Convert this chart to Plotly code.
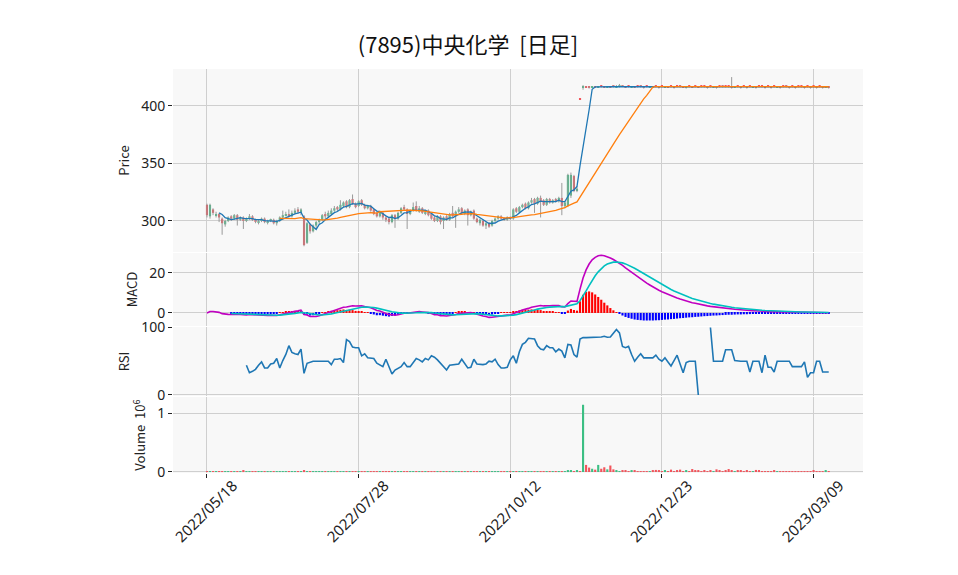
import math
import pandas as pd
import plotly.graph_objects as go
from plotly.subplots import make_subplots

TITLE = "(7895)中央化学  [日足]"
tick_pos = [0, 50, 100, 150, 200]
tick_labels = ["2022/05/18", "2022/07/28", "2022/10/12", "2022/12/23", "2023/03/09"]

open_ = [
    314, 304, 310, 305, 306, 302, 297, 300, 304, 302,
    305, 301, 303, 300, 302, 304, 301, 299, 300, 302,
    299, 300, 301, 298, 300, 303, 305, 306, 304, 307,
    310, 307, 304, 281, 297, 291, 296, 299, 301, 306,
    304, 306, 309, 312, 310, 313, 317, 312, 319, 315,
    313, 318, 314, 311, 313, 310, 307, 304, 307, 303,
    302, 299, 305, 302, 307, 312, 310, 306, 309, 313,
    308, 311, 306, 309, 306, 303, 300, 304, 300, 304,
    301, 307, 304, 308, 311, 306, 310, 305, 309, 302,
    298, 300, 296, 298, 296, 300, 302, 304, 302, 301,
    303, 302, 311, 308, 312, 315, 311, 316, 319, 315,
    320, 318, 314, 319, 316, 319, 317, 320, 313, 313,
    322, 339, 326, 406,
    416, 417, 416, 416, 417, 416, 417, 417, 416, 417,
    417, 416, 417, 418, 417, 417, 416, 417, 417, 417,
    416, 417, 416, 417, 417, 416, 417, 416, 417, 417,
    417, 417, 417, 417, 416, 417, 417, 417, 417, 417,
    417, 417, 417, 416, 417, 417, 417, 417, 417, 417,
    416, 417, 417, 417, 417, 417, 416, 417, 417, 417,
    417, 417, 417, 417, 416, 417, 417, 417, 417, 417,
    417, 417, 417, 417, 417, 417, 417, 417, 417, 417,
    416, 417,
]
high = [
    315, 315, 311, 308, 307, 303, 301, 304, 305, 306,
    306, 304, 304, 303, 306, 305, 302, 301, 303, 303,
    301, 302, 302, 301, 304, 309, 308, 310, 309, 311,
    312, 311, 305, 299, 298, 297, 300, 302, 306, 308,
    309, 311, 313, 313, 318, 317, 318, 319, 323, 316,
    318, 319, 315, 314, 314, 311, 308, 309, 308, 304,
    303, 306, 306, 308, 312, 314, 311, 310, 316, 317,
    313, 312, 309, 310, 307, 304, 305, 305, 304, 305,
    307, 313, 309, 312, 312, 310, 311, 309, 310, 303,
    302, 301, 299, 299, 301, 303, 305, 305, 303, 304,
    304, 311, 312, 313, 315, 316, 317, 320, 320, 321,
    322, 319, 320, 320, 319, 320, 321, 333, 317, 341,
    342, 340, 330, 406,
    418, 417, 417, 417, 417, 417, 417, 417, 417, 417,
    418, 418, 419, 418, 417, 417, 417, 417, 417, 418,
    417, 417, 417, 417, 417, 417, 417, 417, 417, 417,
    417, 417, 418, 417, 417, 417, 417, 417, 417, 417,
    417, 417, 417, 417, 417, 417, 418, 417, 417, 425,
    417, 417, 417, 417, 417, 417, 417, 417, 417, 417,
    417, 417, 417, 417, 417, 417, 417, 418, 417, 417,
    417, 417, 417, 417, 417, 417, 417, 417, 417, 417,
    417, 417,
]
low = [
    303, 302, 305, 303, 299, 288, 295, 299, 300, 301,
    296, 300, 293, 299, 301, 300, 298, 297, 299, 298,
    297, 299, 297, 296, 299, 302, 304, 303, 303, 306,
    306, 305, 278, 280, 289, 290, 293, 297, 300, 301,
    303, 305, 308, 308, 309, 312, 311, 311, 314, 311,
    312, 313, 310, 310, 308, 305, 303, 303, 301, 299,
    297, 298, 294, 301, 306, 309, 293, 305, 308, 308,
    307, 306, 305, 304, 301, 299, 299, 297, 293, 300,
    300, 303, 294, 307, 306, 305, 296, 304, 301, 298,
    296, 295, 293, 294, 295, 299, 301, 301, 300, 300,
    301, 301, 307, 307, 311, 310, 310, 315, 307, 314,
    303, 313, 313, 315, 315, 316, 316, 305, 311, 312,
    320, 325, 325, 406,
    414, 416, 415, 416, 416, 416, 416, 416, 416, 416,
    416, 416, 416, 417, 416, 416, 416, 416, 416, 416,
    415, 416, 416, 416, 416, 415, 416, 416, 416, 416,
    415, 416, 416, 416, 415, 416, 416, 416, 416, 416,
    416, 415, 416, 416, 415, 416, 416, 416, 416, 415,
    416, 416, 415, 416, 415, 416, 416, 415, 416, 416,
    415, 416, 415, 416, 416, 415, 416, 416, 415, 416,
    415, 416, 416, 415, 416, 415, 416, 415, 416, 415,
    416, 415,
]
close = [
    305, 314, 307, 306, 303, 298, 300, 303, 302, 305,
    301, 303, 300, 302, 304, 301, 299, 300, 302, 299,
    300, 301, 298, 300, 303, 305, 306, 304, 307, 309,
    308, 310, 279, 298, 291, 296, 299, 301, 305, 304,
    307, 309, 311, 310, 314, 316, 312, 318, 315, 312,
    317, 314, 311, 313, 309, 306, 304, 308, 303, 301,
    299, 305, 302, 307, 311, 310, 306, 309, 312, 309,
    311, 307, 308, 305, 302, 300, 304, 299, 303, 301,
    306, 304, 308, 310, 307, 309, 305, 308, 302, 299,
    301, 296, 298, 295, 300, 302, 304, 302, 301, 303,
    302, 310, 308, 312, 314, 311, 316, 318, 315, 320,
    317, 314, 319, 316, 318, 317, 320, 313, 316, 340,
    340, 326, 328, 406,
    417, 416, 416, 417, 416, 417, 417, 416, 417, 416,
    417, 417, 418, 417, 416, 417, 417, 416, 417, 417,
    416, 417, 417, 416, 417, 416, 417, 417, 416, 417,
    416, 417, 417, 416, 417, 417, 416, 417, 416, 417,
    417, 416, 417, 417, 416, 417, 417, 417, 417, 416,
    417, 417, 416, 417, 416, 417, 417, 416, 417, 417,
    416, 417, 416, 417, 417, 416, 417, 417, 416, 417,
    416, 417, 417, 416, 417, 416, 417, 416, 417, 416,
    417, 416,
]
volume = [
    12000, 9000, 6000, 5000, 7000, 11000, 6000, 5000, 4000, 5000,
    6000, 4000, 30000, 5000, 4000, 5000, 3000, 4000, 3000, 5000,
    4000, 3000, 5000, 4000, 6000, 7000, 5000, 6000, 5000, 8000,
    6000, 7000, 25000, 15000, 9000, 7000, 6000, 5000, 6000, 5000,
    6000, 5000, 7000, 5000, 8000, 9000, 7000, 8000, 10000, 6000,
    7000, 5000, 4000, 5000, 6000, 5000, 4000, 5000, 6000, 4000,
    5000, 4000, 6000, 5000, 7000, 6000, 8000, 5000, 6000, 7000,
    5000, 4000, 5000, 4000, 5000, 4000, 5000, 6000, 5000, 4000,
    5000, 7000, 6000, 8000, 5000, 4000, 6000, 5000, 4000, 5000,
    4000, 5000, 4000, 5000, 6000, 4000, 5000, 4000, 3000, 4000,
    5000, 9000, 7000, 8000, 9000, 6000, 8000, 7000, 6000, 8000,
    7000, 6000, 8000, 5000, 6000, 5000, 7000, 12000, 9000, 30000,
    22000, 15000, 25000, 3000,
    1140000, 120000, 75000, 55000, 40000, 120000, 55000, 80000, 45000, 110000,
    45000, 20000, 15000, 25000, 25000, 12000, 20000, 30000, 12000, 10000,
    15000, 10000, 12000, 25000, 35000, 20000, 12000, 25000, 15000, 40000,
    15000, 20000, 40000, 15000, 20000, 15000, 50000, 25000, 20000, 12000,
    20000, 15000, 30000, 12000, 45000, 20000, 15000, 25000, 50000, 20000,
    12000, 20000, 30000, 15000, 30000, 10000, 15000, 35000, 20000, 12000,
    10000, 12000, 10000, 20000, 12000, 10000, 10000, 12000, 10000, 8000,
    10000, 8000, 10000, 8000, 10000, 12000, 25000, 8000, 10000, 8000,
    30000, 10000,
]
N = None
rsi = [
    N, N, N, N, N, N, N, N, N, N,
    N, N, N, 44, 33, 35, 38, 44, 49, 40,
    40, 46, 47, 54, 40, 51, 60, 73, 63, 61,
    60, 68, 32, 47, 49, 50, 50, 50, 51, 50,
    50, 45, 53, 53, 54, 48, 82, 79, 71, 70,
    70, 58, 61, 55, 54, 54, 47, 45, 42, 53,
    42, 31, 37, 40, 42, 48, 42, 42, 48, 54,
    52, 49, 54, 52, 58, 56, 52, 47, 42, 37,
    44, 45, 45, 46, 53, 46, 40, 41, 53, 46,
    45, 45, 46, 50, 49, 53, 45, 40, 40, 41,
    52, 58, 47, 64, 75, 78, 84, 84, 83, 73,
    68, 67, 73, 70, 70, 64, 68, 65, 55, 75,
    74, 60, 56, 83, 85, 85, 85, 85.5, 86, 86,
    86, 87, 85.5, 86, 92, 97, 92, 72, 70, 72,
    60, 50, 56, 61, 55, 55, 55, 55, 59, 53,
    50, 55, 49, 43, 51, 59, 46, 33, 48, 50,
    50, 50, 0, N, N, N, 100, 50, 50, 50,
    50, 67, 67, 67, 51, 50, 50, 50, 50, 34,
    50, 50, 50, 33, 59, 41, 41, 34, 50, 50,
    50, 50, 50, 42, 42, 42, 42, 49, 26, 33,
    33, 50, 50, 34, 34, 34,
]

n = len(close)
x = list(range(n))
s = pd.Series(close, dtype=float)
ma5 = s.rolling(5).mean()
ma25 = s.rolling(25).mean()
ema12 = s.ewm(span=12, adjust=False).mean()
ema26 = s.ewm(span=26, adjust=False).mean()
macd = ema12 - ema26
signal = macd.ewm(span=9, adjust=False).mean()
signal.iloc[:8] = float("nan")
hist = macd - signal

UP = "#3cbf84"
DOWN = "#f2545b"
candle_colors = [UP if c > o else DOWN for o, c in zip(open_, close)]

FONT = "Noto Sans CJK JP, Noto Sans, DejaVu Sans"
TICKFONT = "Noto Sans, DejaVu Sans"
GRID = "#cfcfcf"

# page body has an 8px default margin: figure is sized so the plot lands where the reference has it
W, H = 950, 567

fig = make_subplots(rows=4, cols=1, shared_xaxes=True, vertical_spacing=0.0)

# wicks
wx, wy = [], []
for i in x:
    wx += [i, i, None]
    wy += [low[i], high[i], None]
fig.add_trace(go.Scatter(x=wx, y=wy, mode="lines", line=dict(color="#9a9a9a", width=1),
                         hoverinfo="skip"), row=1, col=1)
# bodies
base, hgt = [], []
for o, c in zip(open_, close):
    d = abs(c - o)
    if d < 1.0:
        base.append(min(o, c) - (1.0 - d) / 2)
        hgt.append(1.0)
    else:
        base.append(min(o, c))
        hgt.append(d)
fig.add_trace(go.Bar(x=x, y=hgt, base=base, width=0.7,
                     marker=dict(color=candle_colors, line=dict(width=0))), row=1, col=1)
fig.add_trace(go.Scatter(x=x, y=ma5, mode="lines", line=dict(color="#1f77b4", width=1.3)), row=1, col=1)
fig.add_trace(go.Scatter(x=x, y=ma25, mode="lines", line=dict(color="#ff7f0e", width=1.3)), row=1, col=1)

# MACD
hist_colors = ["#ff0000" if (v == v and v >= 0) else "#0000ff" for v in hist]
fig.add_trace(go.Bar(x=x, y=hist, width=0.7, marker=dict(color=hist_colors, line=dict(width=0))), row=2, col=1)
fig.add_trace(go.Scatter(x=x, y=macd, mode="lines", line=dict(color="#c000c0", width=1.6)), row=2, col=1)
fig.add_trace(go.Scatter(x=x, y=signal, mode="lines", line=dict(color="#00c0c0", width=1.6)), row=2, col=1)

# RSI
fig.add_trace(go.Scatter(x=x, y=rsi, mode="lines", connectgaps=False,
                         line=dict(color="#1f77b4", width=1.6)), row=3, col=1)

# Volume
fig.add_trace(go.Bar(x=x, y=volume, width=0.7, marker=dict(color=candle_colors, line=dict(width=0))), row=4, col=1)

fig.update_layout(
    width=W, height=H,
    margin=dict(l=165, r=95, t=61, b=102),
    paper_bgcolor="white", plot_bgcolor="#f8f8f8",
    showlegend=False, barmode="overlay",
    font=dict(family=FONT, size=14, color="#222222"),
    title=dict(text=TITLE, x=(468 - 8) / W, xanchor="center", y=1 - 37 / H, yanchor="middle",
               font=dict(family=FONT, size=22, color="#111111")),
    yaxis=dict(domain=[0.547, 1.0]),
    yaxis2=dict(domain=[0.364, 0.5446]),
    yaxis3=dict(domain=[0.1906, 0.3614]),
    yaxis4=dict(domain=[0.0, 0.188]),
)

for r in range(1, 5):
    fig.update_xaxes(row=r, col=1, range=[-11.2, 216.3], tickmode="array", tickvals=tick_pos,
                     ticktext=tick_labels, showgrid=True, gridcolor=GRID, gridwidth=1,
                     zeroline=False, showline=False,
                     showticklabels=(r == 4), ticks=("outside" if r == 4 else ""),
                     ticklen=4, tickcolor="#222222", tickangle=-45,
                     tickfont=dict(family=TICKFONT, size=15))
fig.update_xaxes(row=4, col=1, ticklabelshift=26, ticklabelstandoff=-7)

yaxis_common = dict(showgrid=True, gridcolor=GRID, gridwidth=1, zeroline=False, showline=False,
                    ticks="outside", ticklen=4, tickcolor="#222222",
                    tickfont=dict(family=TICKFONT, size=14),
                    title_standoff=8)
fig.update_yaxes(row=1, col=1, range=[273, 432], tickvals=[300, 350, 400],
                 title=dict(text="Price", font=dict(size=13)), **yaxis_common)
fig.update_yaxes(row=2, col=1, range=[-6.5, 30], tickvals=[0, 20],
                 title=dict(text="MACD", font=dict(size=13)), **yaxis_common)
fig.update_yaxes(row=3, col=1, range=[-1.5, 100.7], tickvals=[0, 100],
                 title=dict(text="RSI", font=dict(size=13)), **yaxis_common)
fig.update_yaxes(row=4, col=1, range=[-17000, 1271000], tickvals=[0, 1000000], ticktext=["0", "1"],
                 title=dict(text="Volume  10<sup>6</sup>", font=dict(size=13)), **yaxis_common)

fig.write_html("out.html")
